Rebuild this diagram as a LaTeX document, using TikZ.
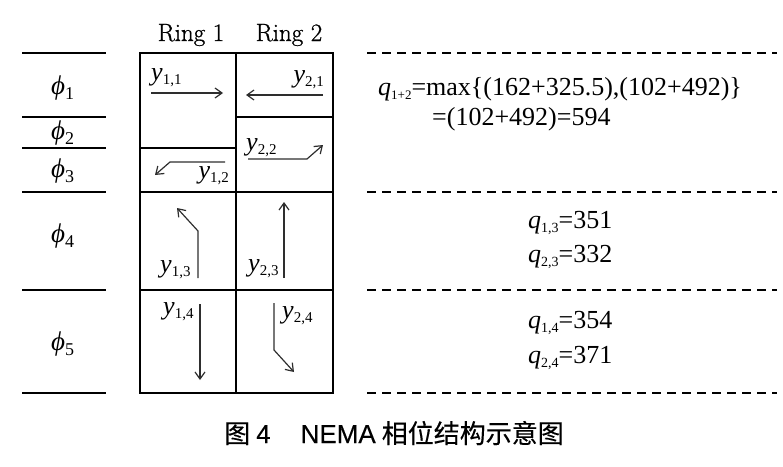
\documentclass[tikz,border=0pt]{standalone}
\usepackage{fontspec}
\setmainfont{Liberation Serif}
\setsansfont{Liberation Sans}[FakeBold=0.25]
\newfontfamily\cjkfont{Noto Sans CJK SC}[FakeBold=0.25]
\newfontfamily\lmfont{Latin Modern Roman}[FakeBold=0.9]
\usetikzlibrary{arrows.meta}
\newcommand\yvar[1]{\textit{y}\raisebox{-4pt}{\fontsize{15}{15}\selectfont #1}}
\newcommand\qvar[1]{\textit{q}\raisebox{-4pt}{\fontsize{14}{14}\selectfont #1}}
\newcommand\phivar[1]{\textit{\char"03D5}\raisebox{-5pt}{\fontsize{18}{18}\selectfont #1}}
\begin{document}
\begin{tikzpicture}[x=1pt,y=-1pt,
  lbl/.style={inner sep=0pt, font=\fontsize{26}{26}\selectfont},
  phl/.style={inner sep=0pt, font=\fontsize{27}{27}\selectfont},
  hdr/.style={inner sep=0pt, anchor=base, font=\fontsize{25}{25}\selectfont\lmfont},
  tbl/.style={line width=2pt},
  arr/.style={draw=black!82, line width=1.2pt, line join=miter, -{Straight Barb[length=7pt,width=10pt]}},
  dashline/.style={line width=2pt, dash pattern=on 9pt off 6pt}]
\useasboundingbox (0,0) rectangle (783,466);

% left phase lines
\foreach \yy in {53,117,148,192,290,393}
  \draw[tbl] (22,\yy) -- (106,\yy);
% phase labels
\node[phl, anchor=base west] (p1) at (51,94) {\phivar{1}};
\node[phl, anchor=base west] (p2) at (51,139) {\phivar{2}};
\node[phl, anchor=base west] (p3) at (51,177) {\phivar{3}};
\node[phl, anchor=base west] (p4) at (51,242) {\phivar{4}};
\node[phl, anchor=base west] (p5) at (51,350) {\phivar{5}};

% ring headers
\node[hdr] (r1) at (191,41) {Ring 1};
\node[hdr] (r2) at (289,41) {Ring 2};

% table
\draw[tbl] (140,53) rectangle (333,393);
\draw[tbl] (236,53) -- (236,393);
\draw[tbl] (140,148) -- (236,148);
\draw[tbl] (236,117) -- (333,117);
\draw[tbl] (140,192) -- (333,192);
\draw[tbl] (140,290) -- (333,290);

% labels in cells
\node[lbl, anchor=base west] (y11) at (151,80) {\yvar{1,1}};
\node[lbl, anchor=base east] (y21) at (324,82) {\yvar{2,1}};
\node[lbl, anchor=base west] (y22) at (246,150) {\yvar{2,2}};
\node[lbl, anchor=base east] (y12) at (229,178) {\yvar{1,2}};
\node[lbl, anchor=base west] (y13) at (160,272) {\yvar{1,3}};
\node[lbl, anchor=base west] (y23) at (248,271) {\yvar{2,3}};
\node[lbl, anchor=base west] (y14) at (163,314) {\yvar{1,4}};
\node[lbl, anchor=base west] (y24) at (282,318) {\yvar{2,4}};

% arrows
\coordinate (a11s) at (151,93);  \coordinate (a11e) at (223,93);
\draw[arr] (a11s) -- (a11e);
\coordinate (a21s) at (323,95);  \coordinate (a21e) at (246,95);
\draw[arr] (a21s) -- (a21e);
\coordinate (a22s) at (248,159); \coordinate (a22b) at (307,159); \coordinate (a22e) at (323,145);
\draw[arr] (a22s) -- (a22b) -- (a22e);
\coordinate (a12s) at (225,162); \coordinate (a12b) at (170,162); \coordinate (a12e) at (155,175);
\draw[arr] (a12s) -- (a12b) -- (a12e);
\coordinate (a13s) at (198,278); \coordinate (a13b) at (198,231); \coordinate (a13e) at (177,208);
\draw[arr] (a13s) -- (a13b) -- (a13e);
\coordinate (a23s) at (284,278); \coordinate (a23e) at (284,202);
\draw[arr] (a23s) -- (a23e);
\coordinate (a14s) at (200,304); \coordinate (a14e) at (200,380);
\draw[arr] (a14s) -- (a14e);
\coordinate (a24s) at (274,303); \coordinate (a24b) at (274,350); \coordinate (a24e) at (294,372);
\draw[arr] (a24s) -- (a24b) -- (a24e);

% dashed lines
\foreach \yy in {53,192,290,393}
  \draw[dashline] (367,\yy) -- (777,\yy);

% right texts
\node[lbl, anchor=base west] (q12a) at (378,95) {\textit{q}\raisebox{-4pt}{\fontsize{13}{13}\selectfont 1+2}=max\{(162+325.5),(102+492)\}};
\node[lbl, anchor=base west] (q12b) at (432,125) {=(102+492)=594};
\node[lbl, anchor=base west] (q13) at (528,228) {\qvar{1,3}=351};
\node[lbl, anchor=base west] (q23) at (528,262) {\qvar{2,3}=332};
\node[lbl, anchor=base west] (q14) at (528,328) {\qvar{1,4}=354};
\node[lbl, anchor=base west] (q24) at (528,363) {\qvar{2,4}=371};

% caption
\node[inner sep=0pt, anchor=base west, font=\fontsize{26}{26}\selectfont] (cap) at (224,443)
  {{\cjkfont 图}\hspace{6pt}{\sffamily 4}\hspace{30pt}{\sffamily NEMA}\hspace{6pt}{\cjkfont 相位结构示意图}};
\end{tikzpicture}
\end{document}
